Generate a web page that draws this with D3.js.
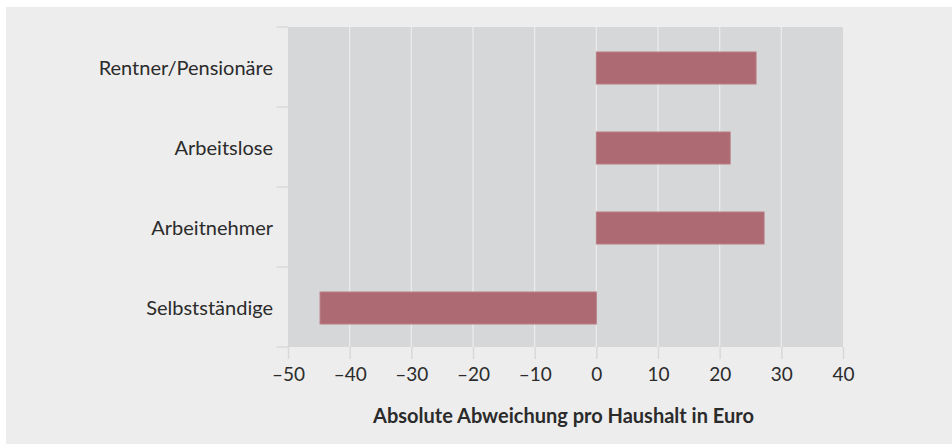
<!DOCTYPE html>
<html>
<head>
<meta charset="utf-8">
<script src="https://cdn.jsdelivr.net/npm/d3@7"></script>
<style>
  body { margin: 0; background: #fff; }
  text { font-family: Lato, "Open Sans", sans-serif; fill: #2b2b2b; }
</style>
</head>
<body>
<div id="chart"></div>
<script>
// categories top to bottom, values in euro
var categories = ["Rentner/Pensionäre", "Arbeitslose", "Arbeitnehmer", "Selbstständige"];
var values = [25.9, 21.7, 27.2, -44.8];
var xTicks = [-50, -40, -30, -20, -10, 0, 10, 20, 30, 40];
var xTitle = "Absolute Abweichung pro Haushalt in Euro";

var data = categories.map(function(c, i) { return { name: c, value: values[i] }; });

var w = 952,
    h = 444,
    plot = { left: 288, right: 843, top: 27, bottom: 347 };

var svg = d3.select("#chart")
    .append("svg")
    .attr("width", w)
    .attr("height", h);

// outer light panel
svg.append("rect")
    .attr("x", 6)
    .attr("y", 7)
    .attr("width", w - 6)
    .attr("height", h - 7)
    .attr("fill", "#ededed");

var x = d3.scaleLinear()
    .domain([-50, 40])
    .range([plot.left, plot.right]);

var y = d3.scaleBand()
    .domain(categories)
    .range([plot.top, plot.bottom])
    .paddingInner(0.6)
    .paddingOuter(0.3);

// plot area
svg.append("rect")
    .attr("x", plot.left)
    .attr("y", plot.top)
    .attr("width", plot.right - plot.left)
    .attr("height", plot.bottom - plot.top)
    .attr("fill", "#d6d7d9");

// vertical grid lines inside the plot
svg.append("g")
    .selectAll("line")
    .data(xTicks.slice(1, -1))
    .enter().append("line")
    .attr("x1", function(d) { return x(d); })
    .attr("x2", function(d) { return x(d); })
    .attr("y1", plot.top)
    .attr("y2", plot.bottom)
    .attr("stroke", "#ececec")
    .attr("stroke-width", 1.2);

// bars
svg.append("g")
    .selectAll("rect")
    .data(data)
    .enter().append("rect")
    .attr("x", function(d) { return x(Math.min(0, d.value)); })
    .attr("y", function(d) { return y(d.name) + 1; })
    .attr("width", function(d) { return Math.abs(x(d.value) - x(0)); })
    .attr("height", y.bandwidth())
    .attr("fill", "#ad6a72")
    .attr("stroke", "#b87c84")
    .attr("stroke-width", 1);

// x axis
var xAxis = d3.axisBottom(x)
    .tickValues(xTicks)
    .tickSize(12)
    .tickFormat(function(d) { return d < 0 ? "\u2013" + Math.abs(d) : d; });

var gx = svg.append("g")
    .attr("transform", "translate(0," + plot.bottom + ")")
    .call(xAxis);
gx.select(".domain").remove();
gx.selectAll(".tick line")
    .attr("stroke", "#d8d8d8")
    .attr("stroke-width", 1.5);
gx.selectAll(".tick text")
    .attr("y", 34)
    .attr("dy", 0)
    .style("font-size", "19px");

// y axis labels, ticks sit on the band boundaries
var yAxis = d3.axisLeft(y)
    .tickSize(0)
    .tickPadding(15);

var gy = svg.append("g")
    .attr("transform", "translate(" + plot.left + ",0)")
    .call(yAxis);
gy.select(".domain").remove();
gy.selectAll(".tick text")
    .attr("dy", 8)
    .style("font-size", "20px");

var bounds = d3.range(categories.length + 1).map(function(i) { return plot.top + i * y.step(); });
svg.append("g")
    .selectAll("line")
    .data(bounds)
    .enter().append("line")
    .attr("x1", plot.left - 11.5)
    .attr("x2", plot.left)
    .attr("y1", function(d) { return d; })
    .attr("y2", function(d) { return d; })
    .attr("stroke", "#d8d8d8")
    .attr("stroke-width", 1.5);

// axis title
svg.append("text")
    .attr("x", (plot.left + plot.right) / 2 - 2)
    .attr("y", 423)
    .attr("text-anchor", "middle")
    .style("font-size", "20px")
    .style("font-weight", "bold")
    .text(xTitle);
</script>
</body>
</html>
